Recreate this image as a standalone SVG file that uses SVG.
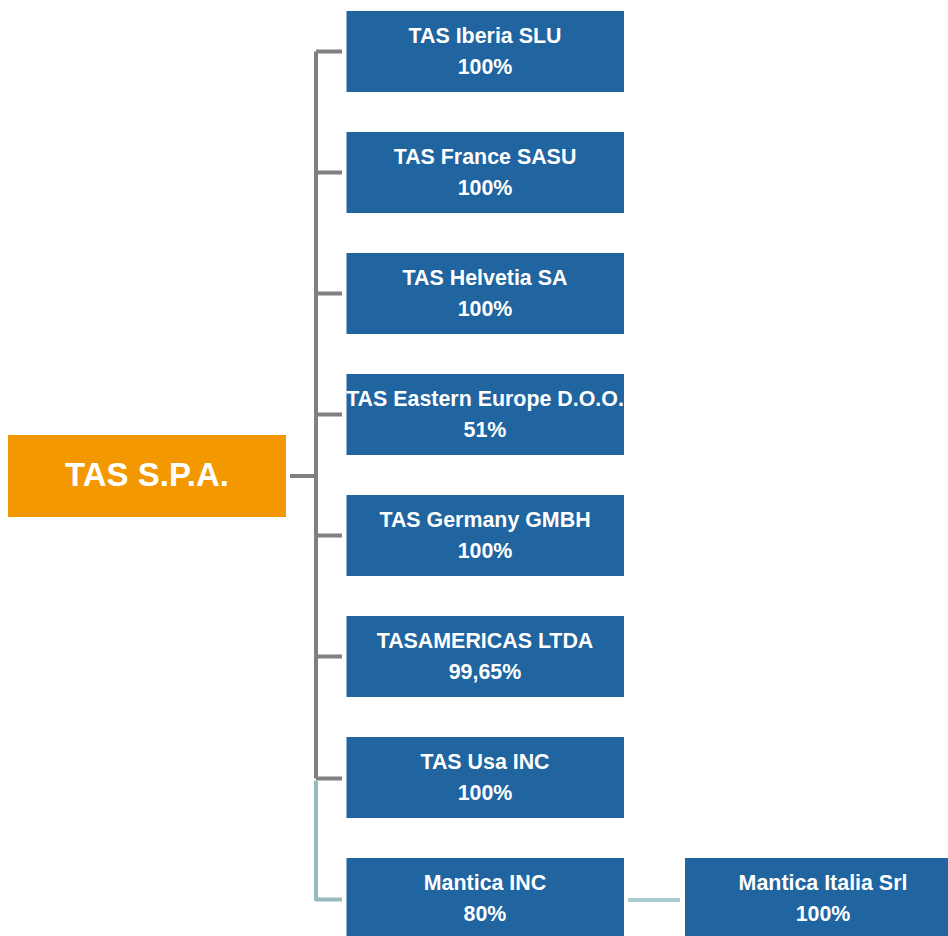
<svg xmlns="http://www.w3.org/2000/svg" width="948" height="936" viewBox="0 0 948 936">
<style>
.box{fill:#2064A0}
.t{font-family:"Liberation Sans",Arial,sans-serif;font-weight:bold;font-size:21.4px;fill:#ffffff;text-anchor:middle}
.g{fill:none;stroke:#808080;stroke-width:4}
.l{fill:none;stroke:#98B9BD;stroke-width:4;stroke-linejoin:round}
</style>
<rect width="948" height="936" fill="#ffffff"/>
<g id="connectors">
<path class="g" d="M290,476 H316 M316,51.5 V778.5 M316,51.5 H342 M316,172.5 H342 M316,293.5 H342 M316,414.5 H342 M316,535.5 H342 M316,656.5 H342 M316,778.5 H342"/>
<path class="l" d="M316,780.5 V899.5 H342"/>
<path fill="none" stroke="#A8CDD0" stroke-width="4" d="M628,900 H680"/>
</g>
<g id="tas-spa">
<rect x="8" y="435" width="278" height="82" fill="#F39800"/>
<text x="147" y="486" style="font-family:'Liberation Sans',Arial,sans-serif;font-weight:bold;font-size:33px;fill:#ffffff;text-anchor:middle">TAS S.P.A.</text>
</g>
<g id="tas-iberia">
<rect class="box" x="346.5" y="11" width="277.5" height="81"/>
<text class="t" x="485" y="43">TAS Iberia SLU</text>
<text class="t" x="485" y="74">100%</text>
</g>
<g id="tas-france">
<rect class="box" x="346.5" y="132" width="277.5" height="81"/>
<text class="t" x="485" y="164">TAS France SASU</text>
<text class="t" x="485" y="195">100%</text>
</g>
<g id="tas-helvetia">
<rect class="box" x="346.5" y="253" width="277.5" height="81"/>
<text class="t" x="485" y="285">TAS Helvetia SA</text>
<text class="t" x="485" y="316">100%</text>
</g>
<g id="tas-eastern">
<rect class="box" x="346.5" y="374" width="277.5" height="81"/>
<text class="t" x="485" y="406">TAS Eastern Europe D.O.O.</text>
<text class="t" x="485" y="437">51%</text>
</g>
<g id="tas-germany">
<rect class="box" x="346.5" y="495" width="277.5" height="81"/>
<text class="t" x="485" y="527">TAS Germany GMBH</text>
<text class="t" x="485" y="558">100%</text>
</g>
<g id="tasamericas">
<rect class="box" x="346.5" y="616" width="277.5" height="81"/>
<text class="t" x="485" y="648">TASAMERICAS LTDA</text>
<text class="t" x="485" y="679">99,65%</text>
</g>
<g id="tas-usa">
<rect class="box" x="346.5" y="737" width="277.5" height="81"/>
<text class="t" x="485" y="769">TAS Usa INC</text>
<text class="t" x="485" y="800">100%</text>
</g>
<g id="mantica-inc">
<rect class="box" x="346.5" y="858" width="277.5" height="81"/>
<text class="t" x="485" y="890">Mantica INC</text>
<text class="t" x="485" y="921">80%</text>
</g>
<g id="mantica-italia">
<rect class="box" x="685" y="858" width="278" height="81"/>
<text class="t" x="823" y="890">Mantica Italia Srl</text>
<text class="t" x="823" y="921">100%</text>
</g>
</svg>
